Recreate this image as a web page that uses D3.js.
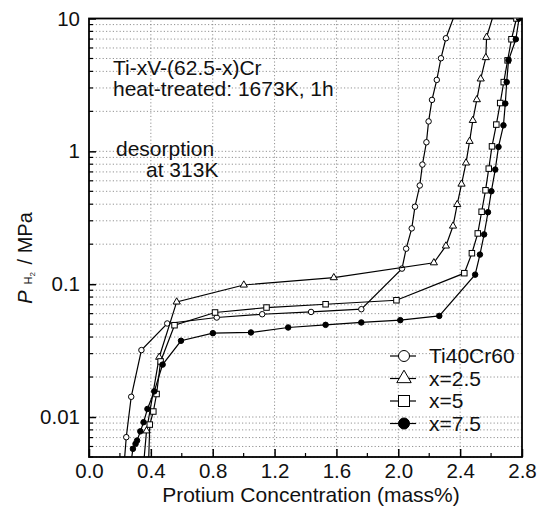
<!DOCTYPE html>
<html>
<head>
<meta charset="utf-8">
<script src="https://cdnjs.cloudflare.com/ajax/libs/d3/7.8.5/d3.min.js"></script>
<style>
  body { margin: 0; background: #fff; }
  text { font-family: "Liberation Sans", Arial, sans-serif; fill: #111; }
</style>
</head>
<body>
<svg id="chart" width="558" height="508"></svg>
<script>
let width = 558,
  height = 508,
  margin = {left: 89, right: 25, top: 18.5, bottom: 51}

// protium concentration (mass%) / pressure (MPa)
var ti40cr60X = [0.227, 0.241, 0.273, 0.339, 0.506, 0.826, 1.120, 1.436, 1.761, 2.024, 2.051, 2.087, 2.108, 2.139, 2.156, 2.182, 2.196, 2.218, 2.249, 2.276, 2.308, 2.371];
var ti40cr60P = [0.0044, 0.00705, 0.0142, 0.0319, 0.0506, 0.0561, 0.0594, 0.0618, 0.0648, 0.131, 0.185, 0.263, 0.383, 0.553, 0.795, 1.17, 1.68, 2.44, 3.45, 5.02, 7.10, 11.2];
var x25X = [0.353, 0.372, 0.454, 0.567, 1.001, 1.583, 2.230, 2.308, 2.354, 2.381, 2.409, 2.438, 2.461, 2.482, 2.508, 2.533, 2.566, 2.571, 2.623];
var x25P = [0.0044, 0.00787, 0.0282, 0.0735, 0.0986, 0.112, 0.145, 0.194, 0.274, 0.398, 0.567, 0.818, 1.19, 1.71, 2.45, 3.51, 5.08, 7.23, 11.4];
var x5X = [0.385, 0.393, 0.416, 0.437, 0.463, 0.553, 0.815, 1.148, 1.530, 1.988, 2.427, 2.476, 2.514, 2.539, 2.564, 2.585, 2.606, 2.634, 2.659, 2.682, 2.707, 2.732, 2.764];
var x5P = [0.0044, 0.00877, 0.0110, 0.0149, 0.0262, 0.0491, 0.0612, 0.0667, 0.0706, 0.0757, 0.121, 0.171, 0.241, 0.351, 0.509, 0.741, 1.09, 1.59, 2.31, 3.32, 4.84, 6.98, 10.0];
var x75X = [0.27, 0.284, 0.301, 0.311, 0.332, 0.353, 0.378, 0.422, 0.476, 0.595, 0.801, 1.047, 1.288, 1.530, 1.761, 2.013, 2.265, 2.497, 2.528, 2.555, 2.580, 2.602, 2.627, 2.648, 2.680, 2.692, 2.701, 2.713, 2.760, 2.781];
var x75P = [0.0044, 0.00576, 0.00628, 0.00665, 0.0078, 0.00914, 0.0115, 0.0156, 0.0248, 0.0375, 0.0428, 0.0433, 0.0472, 0.0494, 0.0515, 0.0536, 0.0577, 0.118, 0.167, 0.237, 0.348, 0.501, 0.729, 1.08, 1.57, 2.29, 3.32, 4.85, 6.98, 10.0];

var seriesNames = ["Ti40Cr60", "x=2.5", "x=5", "x=7.5"];
var seriesMarks = ["circle", "triangle", "square", "dot"];
var xTicks = [0.0, 0.4, 0.8, 1.2, 1.6, 2.0, 2.4, 2.8];
var yTicks = [0.01, 0.1, 1, 10];
var yTickLabels = ["0.01", "0.1", "1", "10"];

let series = [
  {name: seriesNames[0], mark: seriesMarks[0], x: ti40cr60X, p: ti40cr60P},
  {name: seriesNames[1], mark: seriesMarks[1], x: x25X, p: x25P},
  {name: seriesNames[2], mark: seriesMarks[2], x: x5X, p: x5P},
  {name: seriesNames[3], mark: seriesMarks[3], x: x75X, p: x75P}
]

let scales = {
  x: d3.scaleLinear().domain([0, 2.8]).range([margin.left, width - margin.right - 11]),
  y: d3.scaleLog().domain([0.005, 10]).range([height - margin.bottom, margin.top])
}
let x0 = scales.x.range()[0], x1 = scales.x.range()[1],
  y0 = scales.y.range()[0], y1 = scales.y.range()[1]

let svg = d3.select("#chart")

svg.append("clipPath").attr("id", "plot")
  .append("rect")
  .attr("x", x0).attr("y", y1).attr("width", x1 - x0).attr("height", y0 - y1)

// minor log values 2..9 of each decade plus the decades
let minorY = []
for (let e = -3; e < 1; e++) {
  for (let m = 1; m < 10; m++) {
    let v = m * Math.pow(10, e)
    if (v >= 0.005 && v <= 10) minorY.push(v)
  }
}

let grid = svg.append("g")
  .attr("stroke", "#777")
  .attr("stroke-width", 0.8)
  .attr("stroke-dasharray", "1.2,2.2")
grid.selectAll("line.h")
  .data(minorY.filter(v => v < 10)).enter()
  .append("line")
  .attr("x1", x0).attr("x2", x1)
  .attr("y1", d => scales.y(d)).attr("y2", d => scales.y(d))
grid.selectAll("line.v")
  .data(xTicks.slice(1, -1)).enter()
  .append("line")
  .attr("y1", y0).attr("y2", y1)
  .attr("x1", d => scales.x(d)).attr("x2", d => scales.x(d))

// axes: ticks point inward
let xAxis = d3.axisBottom(scales.x)
  .tickValues(xTicks)
  .tickFormat(d3.format(".1f"))
  .tickSizeInner(-8).tickSizeOuter(0).tickPadding(6)
let gx = svg.append("g")
  .attr("transform", `translate(0,${y0})`)
  .call(xAxis)
gx.selectAll("text").attr("font-size", 20.5).style("font-family", "Liberation Sans, Arial, sans-serif").attr("fill", "#111")
gx.select(".domain").remove()
gx.selectAll("line").attr("stroke-width", 1.5)

svg.append("g")
  .selectAll("line")
  .data(d3.range(0.2, 2.8, 0.4)).enter()
  .append("line")
  .attr("x1", d => scales.x(d)).attr("x2", d => scales.x(d))
  .attr("y1", y0).attr("y2", y0 - 4)
  .attr("stroke", "#000").attr("stroke-width", 1.2)

let yAxis = d3.axisLeft(scales.y)
  .tickValues(yTicks)
  .tickFormat((d, i) => yTickLabels[i])
  .tickSizeInner(-7).tickSizeOuter(0).tickPadding(9)
let gy = svg.append("g")
  .attr("transform", `translate(${x0},0)`)
  .call(yAxis)
gy.selectAll("text").attr("font-size", 20.5).style("font-family", "Liberation Sans, Arial, sans-serif").attr("fill", "#111")
gy.select(".domain").remove()
gy.selectAll("line").attr("stroke-width", 1.5)

svg.append("g")
  .selectAll("line")
  .data(minorY.filter(v => Math.abs(Math.log10(v) - Math.round(Math.log10(v))) > 1e-9)).enter()
  .append("line")
  .attr("x1", x0).attr("x2", x0 + 4)
  .attr("y1", d => scales.y(d)).attr("y2", d => scales.y(d))
  .attr("stroke", "#000").attr("stroke-width", 1.2)

svg.append("rect")
  .attr("x", x0).attr("y", y1).attr("width", x1 - x0).attr("height", y0 - y1)
  .attr("fill", "none").attr("stroke", "#000").attr("stroke-width", 1.8)

// curves
let line = d3.line()
  .x(d => scales.x(d[0]))
  .y(d => scales.y(d[1]))

function drawMark(g, mark, size) {
  if (mark == "circle" || mark == "dot") {
    g.append("circle").attr("r", size * 0.55)
      .attr("fill", mark == "dot" ? "#000" : "#fff")
      .attr("stroke", "#000").attr("stroke-width", 1)
  } else if (mark == "square") {
    g.append("rect").attr("x", -size * 0.55).attr("y", -size * 0.55)
      .attr("width", size * 1.1).attr("height", size * 1.1)
      .attr("fill", "#fff").attr("stroke", "#000").attr("stroke-width", 1)
  } else {
    g.append("path")
      .attr("d", d3.symbol().type(d3.symbolTriangle).size(size * size * 0.9)())
      .attr("fill", "#fff").attr("stroke", "#000").attr("stroke-width", 1)
  }
}

let plot = svg.append("g").attr("clip-path", "url(#plot)")
series.forEach(s => {
  let pts = s.x.map((v, i) => [v, s.p[i]])
  plot.append("path")
    .datum(pts)
    .attr("d", line)
    .attr("fill", "none")
    .attr("stroke", "#000")
    .attr("stroke-width", 1.2)
  plot.selectAll(null)
    .data(pts).enter()
    .append("g")
    .attr("transform", d => `translate(${scales.x(d[0])},${scales.y(d[1])})`)
    .each(function () { drawMark(d3.select(this), s.mark, 5) })
})

// legend
let legend = svg.append("g")
series.forEach((s, i) => {
  let y = 356 + i * 22.5
  legend.append("line")
    .attr("x1", 390).attr("x2", 416).attr("y1", y).attr("y2", y)
    .attr("stroke", "#000").attr("stroke-width", 1.2)
  let g = legend.append("g").attr("transform", `translate(404,${y})`)
  drawMark(g, s.mark, 10)
  legend.append("text")
    .attr("x", 429).attr("y", y + 7)
    .attr("font-size", 21)
    .text(s.name)
})

// annotations
let notes = [
  {t: "Ti-xV-(62.5-x)Cr", x: 113, y: 75},
  {t: "heat-treated: 1673K, 1h", x: 113, y: 96},
  {t: "desorption", x: 116, y: 156},
  {t: "at 313K", x: 146, y: 177}
]
svg.selectAll("text.note")
  .data(notes).enter()
  .append("text")
  .attr("x", d => d.x).attr("y", d => d.y)
  .attr("font-size", 21)
  .text(d => d.t)

svg.append("text")
  .attr("x", 311).attr("y", 502)
  .attr("text-anchor", "middle")
  .attr("font-size", 21)
  .text("Protium Concentration (mass%)")

let ylab = svg.append("text")
  .attr("transform", "translate(32,258) rotate(-90)")
  .attr("text-anchor", "middle")
  .attr("font-size", 20)
ylab.append("tspan").attr("font-style", "italic").text("P")
ylab.append("tspan").attr("font-size", 11).attr("dx", 6).attr("dy", 0).text("H")
ylab.append("tspan").attr("font-size", 8).attr("dy", 3).text("2")
ylab.append("tspan").attr("dy", -3).attr("dx", 2).text(" / MPa")
</script>
</body>
</html>
